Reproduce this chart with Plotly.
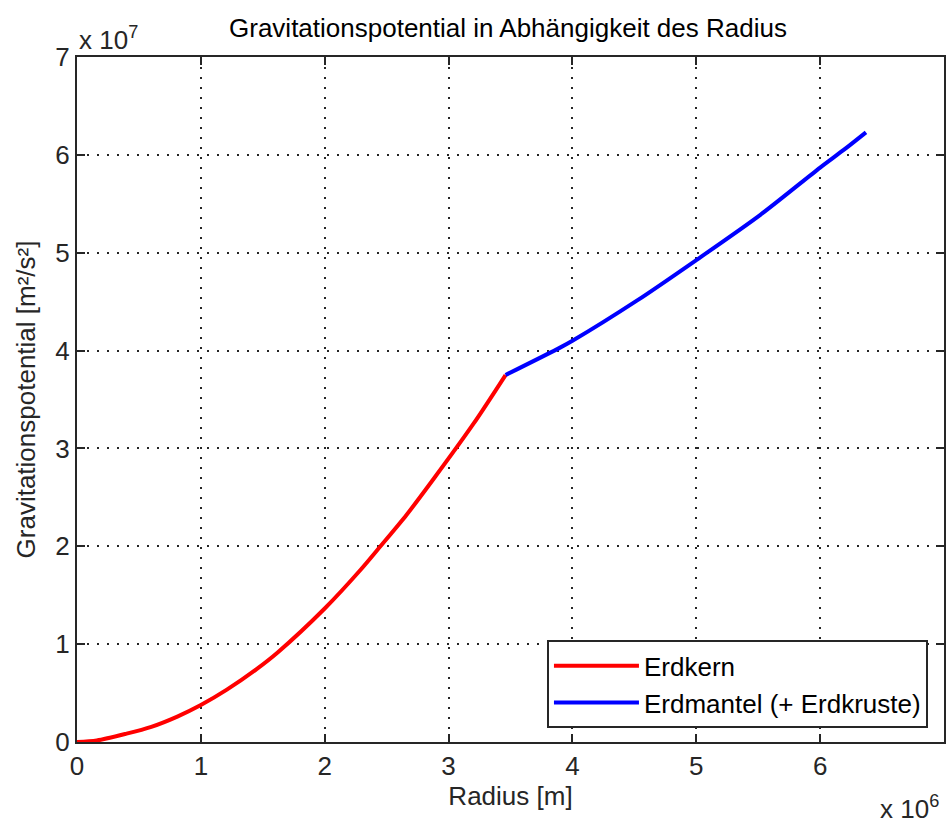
import plotly.graph_objects as go

# Radius in units of 10^6 m, potential in units of 10^7 m^2/s^2
core_radius = [0.0, 0.16, 0.40, 0.60, 0.81, 1.0, 1.21, 1.45, 1.62, 2.0, 2.29, 2.45, 2.66, 2.88, 3.2, 3.46]
core_potential = [0.0, 0.015, 0.085, 0.155, 0.26, 0.378, 0.535, 0.745, 0.915, 1.364, 1.76, 2.0, 2.32, 2.69, 3.25, 3.75]

mantle_radius = [3.46, 3.90, 4.0, 4.52, 5.0, 5.52, 6.0, 6.19, 6.37]
mantle_potential = [3.75, 4.03, 4.10, 4.51, 4.925, 5.39, 5.87, 6.05, 6.23]

tick_vals = [0, 1, 2, 3, 4, 5, 6, 7]
tick_text = ["0", "1", "2", "3", "4", "5", "6", "7"]

FONT = "Liberation Sans, Arial, sans-serif"
FS = 26
TXT = "#262626"

fig = go.Figure()
fig.add_trace(go.Scatter(x=core_radius, y=core_potential, mode="lines", name="Erdkern",
                         line=dict(color="#ff0000", width=4, shape="spline", smoothing=0.8)))
fig.add_trace(go.Scatter(x=mantle_radius, y=mantle_potential, mode="lines", name="Erdmantel (+ Erdkruste)",
                         line=dict(color="#0000ff", width=4, shape="spline", smoothing=0.8)))

axis_common = dict(
    showline=True, linecolor=TXT, linewidth=2, mirror="ticks",
    ticks="inside", ticklen=8, tickwidth=1.5, tickcolor=TXT,
    showgrid=True, gridcolor=TXT, gridwidth=1.5, griddash="2px,8px",
    zeroline=False, tickvals=tick_vals, ticktext=tick_text, automargin=False,
    tickfont=dict(family=FONT, size=FS, color=TXT),
)

fig.update_xaxes(range=[0, 7], title=dict(text="Radius [m]", font=dict(family=FONT, size=FS, color=TXT), standoff=2), **axis_common)
fig.update_yaxes(range=[0, 7], title=dict(text="Gravitationspotential [m²/s²]", font=dict(family=FONT, size=FS, color=TXT), standoff=12), **axis_common)

fig.update_layout(
    width=946, height=823, autosize=False,
    margin=dict(l=77, r=2, t=57, b=81, autoexpand=False),
    paper_bgcolor="white", plot_bgcolor="white",
    title=dict(text="Gravitationspotential in Abhängigkeit des Radius", x=0.537, xanchor="center",
               y=1 - 28 / 823, yanchor="middle", automargin=False,
               font=dict(family=FONT, size=FS, color="#000000")),
    font=dict(family=FONT, size=FS, color=TXT),
    showlegend=True,
    legend=dict(x=0.9815, xanchor="right", y=0.02, yanchor="bottom",
                bgcolor="white", bordercolor=TXT, borderwidth=2,
                font=dict(family=FONT, size=FS, color="#000000"), itemwidth=85,
                tracegroupgap=0),
    annotations=[
        dict(text="x 10<sup>7</sup>", xref="paper", yref="paper", x=0.0, y=1.0, xanchor="left", yanchor="bottom",
             yshift=0, showarrow=False, font=dict(family=FONT, size=FS, color=TXT)),
        dict(text="x 10<sup>6</sup>", xref="paper", yref="paper", x=0.924, y=0.0, xanchor="left", yanchor="top",
             yshift=-47, showarrow=False, font=dict(family=FONT, size=FS, color=TXT)),
    ],
)

fig.write_html(
    "out.html",
    config={"responsive": False, "displayModeBar": False},
    post_script="document.body.style.margin='0';document.body.style.overflow='hidden';",
)
